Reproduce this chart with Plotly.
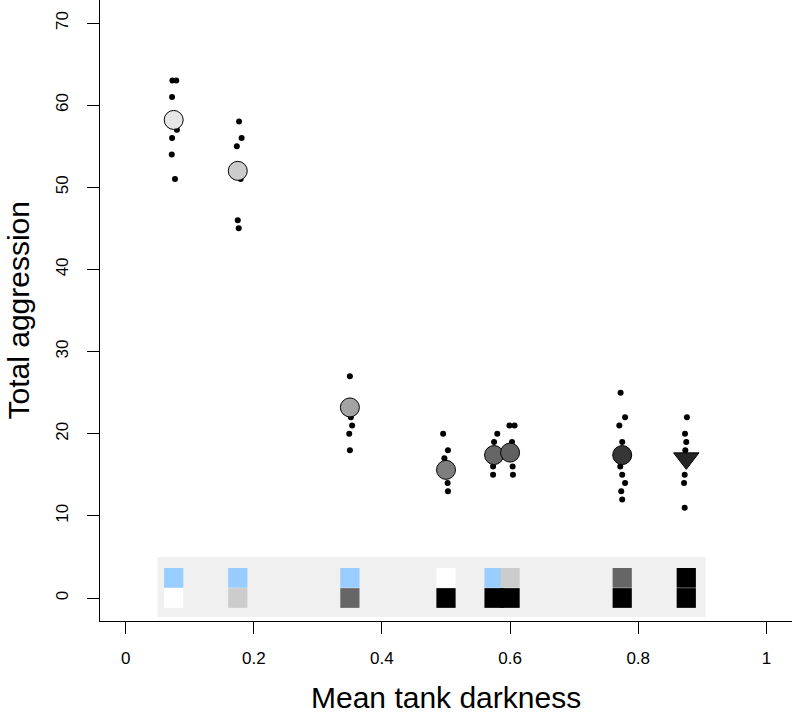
import plotly.graph_objects as go

# ---- data ----
darkness = [0.075, 0.175, 0.35, 0.5, 0.575, 0.6, 0.775, 0.875]
means = [58.2, 52.0, 23.2, 15.6, 17.4, 17.7, 17.4, 17.0]
scores = [
    [63, 63, 61, 57, 56, 54, 51],
    [58, 56, 55, 51, 46, 45],
    [27, 22, 21, 20, 18],
    [20, 18, 17, 14, 13],
    [20, 19, 16, 15],
    [21, 21, 19, 16, 15],
    [25, 22, 21, 19, 16, 15, 14, 13, 12],
    [22, 20, 19, 18, 15, 14, 11],
]
jitter = [
    [-0.002, 0.004, -0.0025, 0.005, -0.0025, -0.003, 0.002],
    [0.002, 0.006, -0.0015, 0.0045, 0.0, 0.0015],
    [0.0, 0.0015, 0.0035, -0.001, 0.0],
    [-0.0045, 0.003, -0.0025, 0.0025, 0.003],
    [0.005, 0.0, -0.0015, -0.0015],
    [-0.001, 0.007, 0.003, 0.004, 0.0045],
    [-0.0025, 0.0045, -0.0045, 0.0, -0.003, 0.0, 0.0045, -0.0015, 0.0],
    [0.001, -0.002, 0.0, -0.0015, -0.0025, -0.0035, -0.0025],
]
mean_fill = ["#E6E6E6", "#CCCCCC", "#A3A3A3", "#7E7E7E",
             "#666666", "#606060", "#363636", "#262626"]
mean_symbol = ["circle"] * 7 + ["triangle-down"]
top_colour = ["#99CCFF", "#99CCFF", "#99CCFF", "#FFFFFF",
              "#99CCFF", "#CCCCCC", "#666666", "#000000"]
bottom_colour = ["#FFFFFF", "#CCCCCC", "#666666", "#000000",
                 "#000000", "#000000", "#000000", "#000000"]
row_y = [2.45, 0.0]          # top and bottom rows of the tank key
panel_x = [0.05, 0.905]
panel_y = [-2.3, 5.0]
y_ticks = [0, 10, 20, 30, 40, 50, 60, 70]
x_ticks = [0, 0.2, 0.4, 0.6, 0.8, 1]
x_tick_text = ["0", "0.2", "0.4", "0.6", "0.8", "1"]

FONT = "Liberation Sans, Arial, Helvetica, sans-serif"
sq_w = 0.03
sq_h = 2.4

fig = go.Figure()

shapes = [dict(type="rect", xref="x", yref="y",
               x0=panel_x[0], x1=panel_x[1], y0=panel_y[0], y1=panel_y[1],
               fillcolor="#F0F0F0", line=dict(width=0), layer="below")]
for xi, ct, cb in zip(darkness, top_colour, bottom_colour):
    for yc, col in ((row_y[0], ct), (row_y[1], cb)):
        shapes.append(dict(type="rect", xref="x", yref="y",
                           x0=xi - sq_w / 2, x1=xi + sq_w / 2,
                           y0=yc - sq_h / 2, y1=yc + sq_h / 2,
                           fillcolor=col, line=dict(width=0), layer="below"))

# individual points
px, py = [], []
for xi, vals, jit in zip(darkness, scores, jitter):
    for v, j in zip(vals, jit):
        px.append(xi + j)
        py.append(v)
fig.add_trace(go.Scatter(x=px, y=py, mode="markers",
                         marker=dict(size=6, color="black", opacity=1,
                                     line=dict(width=0)),
                         showlegend=False, hoverinfo="skip"))

# means
fig.add_trace(go.Scatter(
    x=darkness, y=means, mode="markers", showlegend=False,
    marker=dict(size=[19] * 7 + [22], symbol=mean_symbol, color=mean_fill,
                opacity=1, line=dict(color="black", width=1))))

axis_common = dict(showgrid=False, zeroline=False, showline=True,
                   linecolor="black", linewidth=1, ticks="outside",
                   ticklen=12, tickwidth=1, tickcolor="black",
                   automargin=False,
                   tickfont=dict(family=FONT, size=17, color="black"))

fig.update_layout(
    width=794, height=715,
    margin=dict(l=100, r=2, t=0, b=94),
    paper_bgcolor="white", plot_bgcolor="white",
    shapes=shapes,
    xaxis=dict(range=[-0.04, 1.04], tickvals=x_ticks, ticktext=x_tick_text,
               ticklabelstandoff=10, **axis_common),
    yaxis=dict(range=[-2.8, 72.8], tickvals=y_ticks, tickangle=-90,
               ticklabelstandoff=12, **axis_common),
    annotations=[
        dict(text="Mean tank darkness", xref="paper", yref="paper",
             x=0.5, y=0, yshift=-76, xanchor="center", yanchor="middle",
             showarrow=False, font=dict(family=FONT, size=30, color="black")),
        dict(text="Total aggression", xref="paper", yref="paper",
             x=0, y=0.5, xshift=-82, xanchor="center", yanchor="middle",
             textangle=-90, showarrow=False,
             font=dict(family=FONT, size=30, color="black")),
    ],
)

fig.write_html(
    "out.html",
    config={"displayModeBar": False},
    post_script="document.body.style.margin='0';document.body.style.overflow='hidden';",
)
